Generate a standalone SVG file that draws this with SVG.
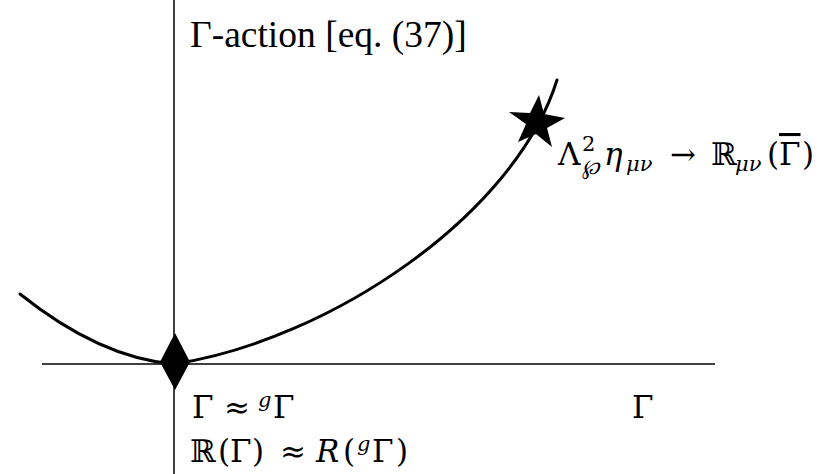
<svg xmlns="http://www.w3.org/2000/svg" width="828" height="474" viewBox="0 0 828 474">
<style>
.ax{stroke:#000;stroke-width:1.5;fill:none}
.cv{stroke:#000;stroke-width:3;fill:none;stroke-linecap:round}
.t{font-family:"Liberation Serif","Times New Roman",serif;fill:#000}
.m{font-family:"DejaVu Serif","Liberation Serif",serif;fill:#000}
.i{font-style:italic}
.s{font-size:21px}
</style>
<rect width="828" height="474" fill="#fff"/>
<g id="connectors">
<line class="ax" x1="174" y1="0" x2="174" y2="474"/>
<line class="ax" x1="42" y1="364" x2="715" y2="364"/>
<path class="cv" d="M20,294 Q100,358 174,364"/>
<path class="cv" d="M174,364 C330,340 515,215 557,80"/>
</g>
<g id="minimum">
<polygon points="175,333 190,362 175,390 160,362" fill="#000"/>
</g>
<g id="star">
<polygon points="539,95 544,114 565,118 547,128 552,147 536,134 518,142 526,124 509,112 530,113" fill="#000"/>
</g>
<g id="ylabel">
<text class="t" x="190" y="47" font-size="37.5">Γ-action [eq. (37)]</text>
</g>
<g id="starlabel">
<text class="m" y="165" font-size="31"><tspan x="558">Λ</tspan><tspan class="s" x="582" y="151">2</tspan><tspan class="s i" x="582" y="174">℘</tspan><tspan class="i" x="604" y="165">η</tspan><tspan class="s i" x="626" y="171">μν</tspan><tspan x="670" y="165">→</tspan><tspan x="711">ℝ</tspan><tspan class="s i" x="735" y="171">μν</tspan><tspan x="767" y="165">(</tspan><tspan x="779" text-decoration="overline">Γ</tspan><tspan x="802">)</tspan></text>
</g>
<g id="minlabel">
<text class="m" y="418" font-size="31"><tspan x="192">Γ</tspan><tspan x="224">≈</tspan><tspan class="i" x="258" y="407" font-size="21">g</tspan><tspan x="273" y="418">Γ</tspan></text>
<text class="m" y="462" font-size="31"><tspan x="190">ℝ</tspan><tspan x="218">(</tspan><tspan x="230">Γ</tspan><tspan x="252">)</tspan><tspan x="280">≈</tspan><tspan class="i" x="316">R</tspan><tspan x="343">(</tspan><tspan class="i" x="357" y="451" font-size="21">g</tspan><tspan x="372" y="462">Γ</tspan><tspan x="396">)</tspan></text>
</g>
<g id="xlabel">
<text class="m" x="632" y="418" font-size="31">Γ</text>
</g>
</svg>
